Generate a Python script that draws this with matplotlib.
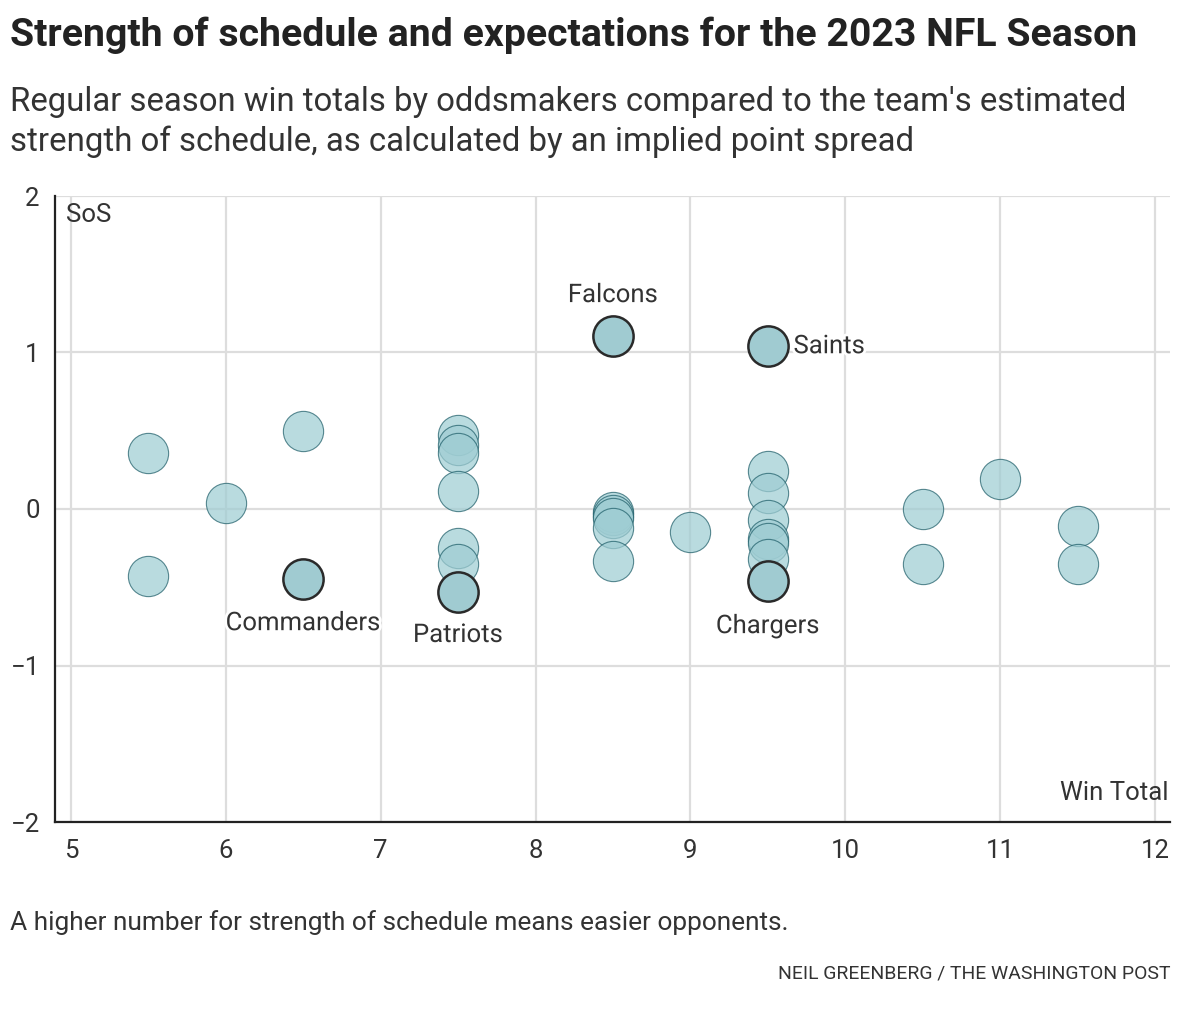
import matplotlib
matplotlib.use("Agg")
import matplotlib.pyplot as plt
import matplotlib.patheffects as pe

# ---- data ----
win_total = [5.5, 5.5, 6.0, 6.5, 6.5,
             7.5, 7.5, 7.5, 7.5, 7.5, 7.5, 7.5,
             8.5, 8.5, 8.5, 8.5, 8.5, 8.5,
             9.0,
             9.5, 9.5, 9.5, 9.5, 9.5, 9.5, 9.5, 9.5,
             10.5, 10.5, 11.0, 11.5, 11.5]
sos = [0.36, -0.43, 0.04, 0.50, -0.45,
       0.47, 0.41, 0.36, 0.115, -0.25, -0.35, -0.53,
       1.105, -0.02, -0.04, -0.06, -0.12, -0.33,
       -0.15,
       1.04, 0.24, 0.10, -0.07, -0.19, -0.22, -0.32, -0.46,
       0.0, -0.35, 0.19, -0.11, -0.35]
team = ["", "", "", "", "Commanders",
        "", "", "", "", "", "", "Patriots",
        "Falcons", "", "", "", "", "",
        "",
        "Saints", "", "", "", "", "", "", "Chargers",
        "", "", "", "", ""]
x_ticks = [5, 6, 7, 8, 9, 10, 11, 12]
y_ticks = [-2, -1, 0, 1, 2]
y_ticklabels = ["\u22122", "\u22121", "0", "1", "2"]

title = "Strength of schedule and expectations for the 2023 NFL Season"
subtitle1 = "Regular season win totals by oddsmakers compared to the team's estimated"
subtitle2 = "strength of schedule, as calculated by an implied point spread"
note = "A higher number for strength of schedule means easier opponents."
credit = "NEIL GREENBERG / THE WASHINGTON POST"

# label placement (offsets in points) per highlighted team
label_offsets = {"Falcons": (0, 29.5, "center", "center"),
                 "Saints": (18.5, 0, "left", "center"),
                 "Commanders": (0, -31.5, "center", "center"),
                 "Patriots": (0, -31, "center", "center"),
                 "Chargers": (0, -32.5, "center", "center")}

FONT = ["Roboto", "DejaVu Sans"]
TXT = "#333333"

W, H, DPI = 1180, 1010, 100
fig = plt.figure(figsize=(W / DPI, H / DPI), dpi=DPI)
fig.patch.set_facecolor("white")

ax = fig.add_axes([55 / W, 1 - 822 / H, (1170 - 55) / W, (822 - 196) / H])
ax.set_xlim(4.897, 12.097)
ax.set_ylim(-2, 2)

for s in ["top", "right"]:
    ax.spines[s].set_visible(False)
for s in ["left", "bottom"]:
    ax.spines[s].set_color("#222222")
    ax.spines[s].set_linewidth(1.6)
    ax.spines[s].set_zorder(5)

ax.set_xticks(x_ticks)
ax.set_yticks(y_ticks)
ax.set_yticklabels(y_ticklabels)
ax.tick_params(length=0, labelsize=18.5, colors=TXT)
ax.tick_params(axis="x", pad=12)
ax.tick_params(axis="y", pad=11)
for lab in ax.get_xticklabels() + ax.get_yticklabels():
    lab.set_family(FONT)
ax.grid(True, color="#dddddd", linewidth=1.6, zorder=0)
ax.set_axisbelow(True)

normal = [i for i, t in enumerate(team) if t == ""]
high = [i for i, t in enumerate(team) if t != ""]

ax.scatter([win_total[i] for i in normal], [sos[i] for i in normal],
           s=840, facecolor="#9fcdd3", alpha=0.72, edgecolor="#1f5e69",
           linewidth=0.8, zorder=3)
ax.scatter([win_total[i] for i in high], [sos[i] for i in high],
           s=840, facecolor="#a0cbd1", edgecolor="#2a2a2a",
           linewidth=1.8, zorder=4)

halo = [pe.withStroke(linewidth=4, foreground="white")]
for i in high:
    dx, dy, ha, va = label_offsets[team[i]]
    ax.annotate(team[i], (win_total[i], sos[i]), xytext=(dx, dy),
                textcoords="offset points", ha=ha, va=va, fontsize=18.5,
                color=TXT, family=FONT, path_effects=halo, zorder=6)

fig.text(66 / W, 1 - 215 / H, "SoS", ha="left", va="center",
         fontsize=18.5, color=TXT, family=FONT)
fig.text(1168 / W, 1 - 793 / H, "Win Total", ha="right", va="center",
         fontsize=18.5, color=TXT, family=FONT)

# ---- header / footer text, scaled to the reference widths ----
def fit(txt, x, y, width_px, size, ha="left", **kw):
    t = fig.text(x / W, 1 - y / H, txt, ha=ha, va="baseline", fontsize=size,
                 color=kw.pop("color", TXT), family=FONT, **kw)
    fig.canvas.draw()
    w = t.get_window_extent().width
    t.set_fontsize(size * width_px / w)
    return t

fit(title, 10, 46, 1127, 26, weight="bold", color="#222222")
fit(subtitle1, 10, 111, 1117, 21)
fit(subtitle2, 10, 151, 904, 21)
fit(note, 10, 930, 780, 15)
fit(credit, 1170, 979, 390, 12, ha="right")

fig.savefig("out.png", dpi=DPI, facecolor="white")
